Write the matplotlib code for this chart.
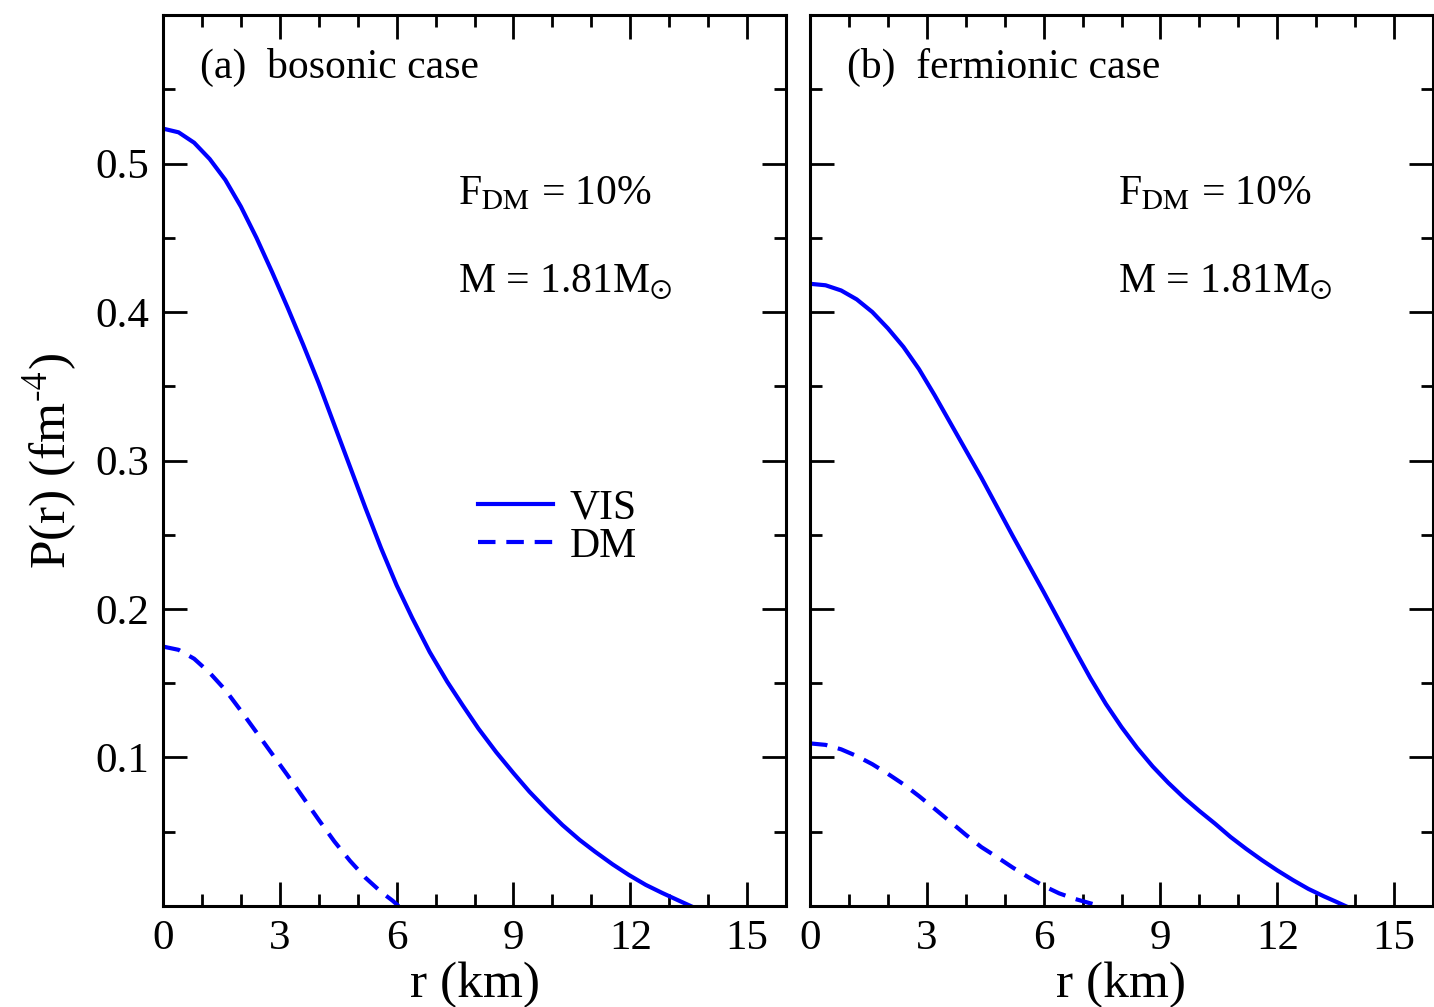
import numpy as np
import matplotlib
matplotlib.use("Agg")
import matplotlib.pyplot as plt
from matplotlib.ticker import MultipleLocator, FixedLocator

plt.rcParams.update({
    'font.family': ['Liberation Serif', 'DejaVu Serif'],
    'mathtext.fontset': 'stix',
    'axes.linewidth': 2.2,
})

BLUE = '#0000ff'

# ---- data: r (km), P (fm^-4) ----
r_bos_vis = [0, 0.4, 0.8, 1.2, 1.6, 2.0, 2.4, 2.8, 3.2, 3.6, 4.0, 4.4, 4.8,
             5.2, 5.6, 6.0, 6.4, 6.85, 7.3, 7.7, 8.1, 8.56, 9.0, 9.41, 9.85,
             10.26, 10.7, 11.1, 11.55, 11.97, 12.4, 12.82, 13.2, 13.55]
p_bos_vis = [0.5235, 0.521, 0.514, 0.503, 0.489, 0.471, 0.450, 0.427, 0.403,
             0.378, 0.352, 0.324, 0.296, 0.268, 0.241, 0.216, 0.194, 0.171,
             0.151, 0.135, 0.1195, 0.1035, 0.0895, 0.077, 0.065, 0.0545,
             0.0445, 0.0365, 0.028, 0.0208, 0.0142, 0.0088, 0.0042, 0.0]

r_bos_dm = [0, 0.4, 0.8, 1.2, 1.6, 2.0, 2.4, 2.8, 3.2, 3.6, 4.0, 4.4, 4.8,
            5.2, 5.6, 5.9, 6.05]
p_bos_dm = [0.1747, 0.1725, 0.1665, 0.157, 0.1455, 0.1315, 0.117, 0.1025,
            0.088, 0.073, 0.058, 0.0435, 0.0305, 0.019, 0.0095, 0.0035, 0.0]

r_fer_vis = [0, 0.4, 0.8, 1.2, 1.6, 2.0, 2.4, 2.8, 3.2, 3.6, 4.0, 4.4, 4.8,
             5.2, 5.6, 6.0, 6.4, 6.8, 7.2, 7.6, 8.0, 8.4, 8.8, 9.2, 9.6,
             10.0, 10.4, 10.8, 11.2, 11.6, 12.0, 12.4, 12.8, 13.2, 13.5, 13.75]
p_fer_vis = [0.419, 0.418, 0.4145, 0.4085, 0.400, 0.389, 0.3765, 0.3615,
             0.344, 0.3255, 0.307, 0.2885, 0.269, 0.2495, 0.2305, 0.2115,
             0.192, 0.1725, 0.1535, 0.136, 0.1205, 0.1065, 0.094, 0.083,
             0.073, 0.064, 0.0555, 0.0465, 0.0385, 0.031, 0.024, 0.0175,
             0.0115, 0.0065, 0.003, 0.0]

r_fer_dm = [0, 0.4, 0.8, 1.2, 1.6, 2.0, 2.4, 2.8, 3.2, 3.6, 4.0, 4.4, 4.8,
            5.2, 5.6, 6.0, 6.4, 6.8, 7.2, 7.45]
p_fer_dm = [0.1095, 0.1085, 0.1055, 0.101, 0.0955, 0.089, 0.082, 0.074,
            0.0655, 0.0568, 0.048, 0.0397, 0.033, 0.026, 0.0195, 0.0135,
            0.0085, 0.0048, 0.0018, 0.0]

panels = [
    ('(a)  bosonic case', r_bos_vis, p_bos_vis, r_bos_dm, p_bos_dm),
    ('(b)  fermionic case', r_fer_vis, p_fer_vis, r_fer_dm, p_fer_dm),
]

fig = plt.figure(figsize=(14.34, 10.07), dpi=100)
lefts = [163 / 1434, 810 / 1434]
axes = [fig.add_axes([l, 0.1003, 623 / 1434, 0.8848]) for l in lefts]

for i, (ax, (title, rv, pv, rd, pd)) in enumerate(zip(axes, panels)):
    ax.plot(rv, pv, color=BLUE, lw=3.0, solid_joinstyle='round', label='VIS')
    ax.plot(rd, pd, color=BLUE, lw=3.0, dashes=(4.2, 2.6), label='DM')

    ax.set_xlim(0, 16)
    ax.set_ylim(0, 0.6)
    ax.xaxis.set_major_locator(MultipleLocator(3))
    ax.xaxis.set_minor_locator(MultipleLocator(1))
    ax.yaxis.set_major_locator(FixedLocator([0.1, 0.2, 0.3, 0.4, 0.5]))
    ax.yaxis.set_minor_locator(MultipleLocator(0.05))
    ax.tick_params(which='both', direction='in', top=True, right=True,
                   width=2.0, labelsize=31)
    ax.tick_params(which='major', length=17, pad=10)
    ax.tick_params(which='minor', length=8.5)
    ax.set_xlabel('r (km)', fontsize=37, labelpad=2)

    ax.text(0.06, 0.941, title, transform=ax.transAxes, fontsize=30,
            va='center', ha='left')
    tx = 0.4735 if i == 0 else 0.494
    ax.text(tx, 0.787, r'F$_{\rm DM}$ = 10%', transform=ax.transAxes,
            fontsize=30, va='baseline', ha='left')
    ax.text(tx, 0.689, r'M = 1.81M$_{\odot}$', transform=ax.transAxes,
            fontsize=30, va='baseline', ha='left')

axes[0].set_ylabel(r'P(r) (fm$^{\text{-}4}$)', fontsize=37, labelpad=12)
axes[1].tick_params(labelleft=False)

leg = axes[0].legend(loc='center left', bbox_to_anchor=(0.505, 0.425),
                     frameon=False, fontsize=30, handlelength=1.8,
                     handletextpad=0.4, labelspacing=0.0, borderpad=0,
                     borderaxespad=0)

fig.savefig('out.png', dpi=100)
